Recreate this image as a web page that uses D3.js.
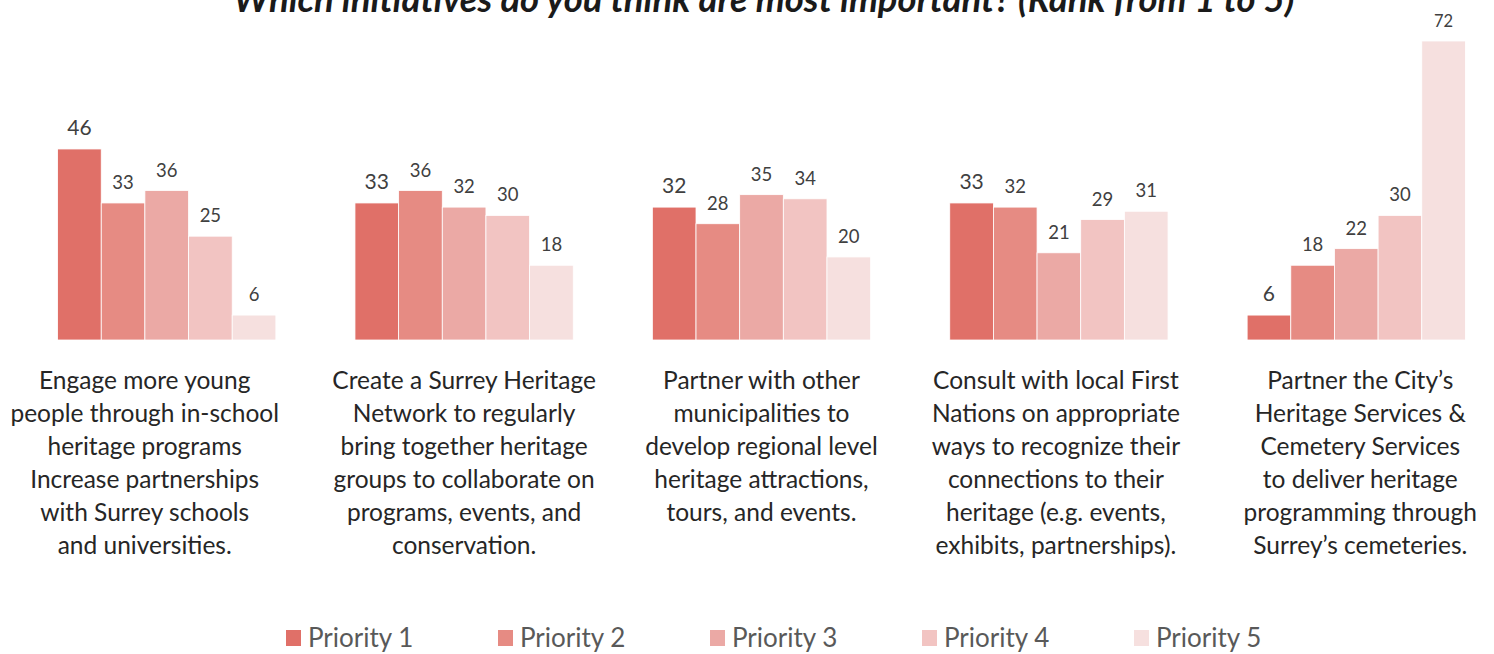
<!DOCTYPE html>
<html>
<head>
<meta charset="utf-8">
<script src="https://cdn.jsdelivr.net/npm/d3@7"></script>
<style>
  html, body { margin: 0; padding: 0; background: #fff; }
  svg { display: block; }
</style>
</head>
<body>
<svg id="chart" width="1494" height="654"></svg>
<script>
// ---- data ----
const titleText = "Which initiatives do you think are most important? (Rank from 1 to 5)";
const categories = [
  ["Engage more young", "people through in-school", "heritage programs", "Increase partnerships", "with Surrey schools", "and universities."],
  ["Create a Surrey Heritage", "Network to regularly", "bring together heritage", "groups to collaborate on", "programs, events, and", "conservation."],
  ["Partner with other", "municipalities to", "develop regional level", "heritage attractions,", "tours, and events."],
  ["Consult with local First", "Nations on appropriate", "ways to recognize their", "connections to their", "heritage (e.g. events,", "exhibits, partnerships)."],
  ["Partner the City\u2019s", "Heritage Services &", "Cemetery Services", "to deliver heritage", "programming through", "Surrey\u2019s cemeteries."]
];
const seriesNames = ["Priority 1", "Priority 2", "Priority 3", "Priority 4", "Priority 5"];
const priority1 = [46, 33, 32, 33, 6];
const priority2 = [33, 36, 28, 32, 18];
const priority3 = [36, 32, 35, 21, 22];
const priority4 = [25, 30, 34, 29, 30];
const priority5 = [6, 18, 20, 31, 72];
const seriesValues = [priority1, priority2, priority3, priority4, priority5];
const colors = ["#E07068", "#E68B83", "#EBA9A5", "#F2C4C2", "#F6E0DF"];

// ---- layout ----
const W = 1494, H = 654;
const baseY = 340;
const svg = d3.select("#chart");
const FONT = "Lato, 'Open Sans', sans-serif";

const groupIdx = d3.range(categories.length);
const x0 = d3.scaleBand().domain(groupIdx).range([10, 1513]).paddingInner(0.266).paddingOuter(0.16);
const x1 = d3.scaleBand().domain(d3.range(seriesNames.length)).range([0, x0.bandwidth()]).padding(0);
const y = d3.scaleLinear().domain([0, 72]).range([baseY, 41]);

// title
svg.append("text")
  .attr("x", 764).attr("y", 12)
  .attr("text-anchor", "middle")
  .attr("font-family", FONT)
  .attr("font-weight", "bold").attr("font-style", "italic")
  .attr("font-size", 36.5).attr("fill", "#1a1a1a")
  .text(titleText);

// bars
const groups = svg.append("g").selectAll("g").data(groupIdx).join("g")
  .attr("transform", g => `translate(${x0(g)},0)`);

groups.selectAll("rect")
  .data(g => seriesValues.map((s, i) => ({ i, v: s[g] })))
  .join("rect")
  .attr("x", d => x1(d.i))
  .attr("width", x1.bandwidth())
  .attr("y", d => y(d.v))
  .attr("height", d => y(0) - y(d.v))
  .attr("fill", d => colors[d.i])
  .attr("stroke", "#fff").attr("stroke-width", 0.8);

groups.selectAll("text.val")
  .data(g => seriesValues.map((s, i) => ({ i, v: s[g] })))
  .join("text")
  .attr("class", "val")
  .attr("x", d => x1(d.i) + x1.bandwidth() / 2)
  .attr("y", d => y(d.v) - 14)
  .attr("text-anchor", "middle")
  .attr("font-family", FONT)
  .attr("font-size", d => d.v >= 70 ? 16.5 : (d.i === 0 ? 21 : 18.5))
  .attr("fill", "#404040")
  .text(d => d.v);

// category labels
const labelShift = [-22, 0, 0, -3, 4];
svg.append("g").selectAll("text").data(groupIdx).join("text")
  .attr("x", g => x0(g) + x0.bandwidth() / 2 + labelShift[g])
  .attr("y", 389)
  .attr("text-anchor", "middle")
  .attr("font-family", FONT)
  .attr("font-size", 24.5).attr("fill", "#262626")
  .each(function (g) {
    const t = d3.select(this);
    categories[g].forEach((line, k) => {
      t.append("tspan").attr("x", x0(g) + x0.bandwidth() / 2 + labelShift[g])
        .attr("dy", k === 0 ? 0 : 33).text(line);
    });
  });

// legend
const lx = d3.scalePoint().domain(d3.range(seriesNames.length)).range([286, 1134]);
const leg = svg.append("g").selectAll("g").data(d3.range(seriesNames.length)).join("g")
  .attr("transform", i => `translate(${lx(i)},630)`);
leg.append("rect").attr("width", 15).attr("height", 16).attr("fill", i => colors[i]);
leg.append("text").attr("x", 22).attr("y", 17)
  .attr("font-family", FONT)
  .attr("font-size", 26).attr("fill", "#595959")
  .text(i => seriesNames[i]);
</script>
</body>
</html>
